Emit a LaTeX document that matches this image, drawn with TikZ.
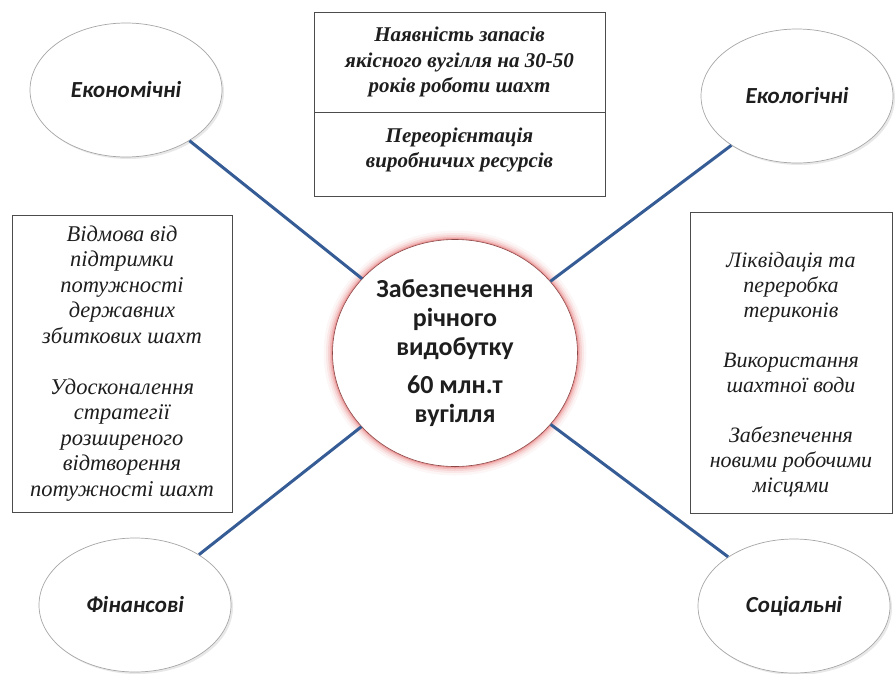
\documentclass[tikz,border=0pt]{standalone}
\usepackage{fontspec}
\setmainfont{Liberation Serif}
\newfontfamily\calibrifont{Carlito}
\usetikzlibrary{shapes.geometric,shadows,positioning}
\definecolor{linkblue}{RGB}{54,92,150}
\definecolor{glowred}{RGB}{225,95,95}
\definecolor{rimred}{RGB}{140,70,70}
\definecolor{inkgray}{RGB}{30,30,30}

\begin{document}
\begin{tikzpicture}
[x=1pt,y=-1pt,
  ovaldecorate/.style={shape=ellipse,draw=gray!70,fill=white,line width=0.7pt,
    inner sep=0pt,minimum width=192pt,minimum height=134pt,
    drop shadow={opacity=0.18,shadow xshift=2pt,shadow yshift=-2pt},
    font=\calibrifont\bfseries\itshape\fontsize{23}{27}\selectfont,text=inkgray},%
  hubdecorate/.style={shape=ellipse,draw=rimred,fill=white,line width=0.6pt,
    inner sep=0pt,minimum width=245pt,minimum height=227pt,align=center,
    font=\calibrifont\bfseries\fontsize{26}{29}\selectfont,text=inkgray},%
  boxdecorate/.style={shape=rectangle,draw=gray!60!black,line width=0.7pt,
    inner sep=0pt,align=center,text=inkgray,
    font=\itshape\fontsize{22.5}{25.5}\selectfont},%
  linedecorate/.style={-,line width=3pt,draw=linkblue}]
\useasboundingbox (0,0) rectangle (896,673);
%% glow round the hub
\coordinate (hubcentre) at (455,353);
\foreach \w/\o in {18/0.06, 13/0.1, 9/0.14, 5.5/0.22, 2.5/0.4} {
  \draw[glowred, line width=\w pt, opacity=\o] (hubcentre)
    ellipse [x radius=122.5pt, y radius=113.5pt];
}
%% hub
\node (hub) at (hubcentre) [hubdecorate]
  {Забезпечення\\річного\\видобутку\\[9pt]60 млн.т\\вугілля};
%% ovals
\foreach \nodename/\x/\y/\caption in {econ/126/90/Економічні,
  ecol/797/96/Екологічні, fin/135/605/Фінансові, soc/794/606/Соціальні} {
  \node (\nodename) at (\x,\y) [ovaldecorate] {\caption};
}
%% boxes
\node (reserves) at (459.5,62) [boxdecorate,minimum width=291pt,
  minimum height=100pt,font=\itshape\bfseries\fontsize{21}{25.5}\selectfont]
  {Наявність запасів\\якісного вугілля на 30-50\\років роботи шахт};
\node (redirect) [boxdecorate,below=0pt of reserves,minimum width=291pt,
  minimum height=84pt,font=\itshape\bfseries\fontsize{21}{25.5}\selectfont]
  {Переорієнтація\\виробничих ресурсів\rule[-14pt]{0pt}{0pt}};
\node (refusal) at (122,363.5) [boxdecorate,minimum width=220pt,
  minimum height=297pt]
  {Відмова від\\підтримки\\потужності\\державних\\збиткових шахт\\[25.5pt]
   Удосконалення\\стратегії\\розширеного\\відтворення\\потужності шахт};
\node (ecoworks) at (791,362.5) [boxdecorate,minimum width=202pt,
  minimum height=301pt,font=\itshape\fontsize{22}{25}\selectfont]
  {\rule{0pt}{40pt}Ліквідація та\\переробка\\териконів\\[25pt]
   Використання\\шахтної води\\[25pt]
   Забезпечення\\новими робочими\\місцями};
%% links
\path
\foreach \startnode in {econ, ecol, fin, soc}
{
  (\startnode) edge[linedecorate] (hub)
};
\end{tikzpicture}
\end{document}
